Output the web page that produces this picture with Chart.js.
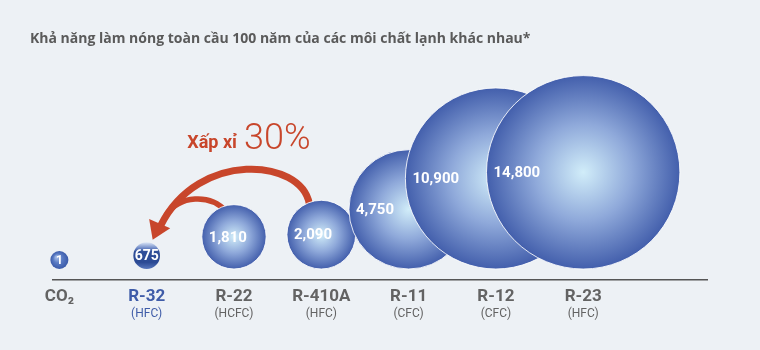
<!DOCTYPE html>
<html>
<head>
<meta charset="utf-8">
<script src="https://cdn.jsdelivr.net/npm/chart.js@4"></script>
<style>
  html, body { margin: 0; padding: 0; background: #edf1f5; }
  #wrap { width: 760px; height: 350px; position: relative; }
</style>
</head>
<body>
<div id="wrap"><canvas id="c" width="760" height="350"></canvas></div>
<script>
// ---------------- data ----------------
const categories = ['CO₂', 'R-32', 'R-22', 'R-410A', 'R-11', 'R-12', 'R-23'];
const refrigerantTypes = ['', '(HFC)', '(HCFC)', '(HFC)', '(CFC)', '(CFC)', '(HFC)'];
const gwpValues = [1, 675, 1810, 2090, 4750, 10900, 14800];
const titleText = 'Khả năng làm nóng toàn cầu 100 năm của các môi chất lạnh khác nhau*';
const noteLabel = 'Xấp xỉ';
const noteValue = '30%';
const highlightIndex = 1;   // R-32
const noteFrom = [3, 2];    // arrows from R-410A and R-22
const noteTo = 1;           // towards R-32

// ---------------- size scale (value -> bubble radius) ----------------
const SIZE_STOPS = [[0, 9], [700, 13.5], [1500, 30], [2000, 33.5], [5000, 62], [11000, 91], [15000, 97]];
function sizeFor(v) {
  for (let i = 1; i < SIZE_STOPS.length; i++) {
    const [d0, r0] = SIZE_STOPS[i - 1], [d1, r1] = SIZE_STOPS[i];
    if (v <= d1) return r0 + (v - d0) / (d1 - d0) * (r1 - r0);
  }
  return SIZE_STOPS[SIZE_STOPS.length - 1][1];
}

const LIFT = 11;          // gap between bubble bottoms and axis line
const X_MIN = -0.073, X_MAX = 7.418;
const FONT = 'Roboto, "Liberation Sans", Arial, sans-serif';
const TITLE_FONT = '"Open Sans", Roboto, sans-serif';
const RED = '#c8462b';

function bubbleFill(ctx) {
  const chart = ctx.chart;
  const xs = chart.scales.x, ys = chart.scales.y;
  if (!xs || !ys || !chart.chartArea || ctx.dataIndex === undefined) return '#5a76bd';
  const i = ctx.dataIndex;
  const r = sizeFor(gwpValues[i]);
  const cx = xs.getPixelForValue(i);
  const cy = ys.getPixelForValue(chart.data.datasets[0].data[i].y);
  const g = chart.ctx;
  if (i === highlightIndex) {
    const lg = g.createLinearGradient(0, cy - r, 0, cy + r);
    lg.addColorStop(0, '#dbe6f6');
    lg.addColorStop(0.22, '#6d88c6');
    lg.addColorStop(0.35, '#2f4e98');
    lg.addColorStop(0.75, '#2b4a94');
    lg.addColorStop(1, '#5877bd');
    return lg;
  }
  if (r < 12) {
    const rg = g.createRadialGradient(cx - r * 0.35, cy - r * 0.35, 0, cx, cy, r);
    rg.addColorStop(0, '#b0c6ec');
    rg.addColorStop(0.5, '#5b7cc4');
    rg.addColorStop(1, '#3a5aa9');
    return rg;
  }
  const rg = g.createRadialGradient(cx, cy, 0, cx, cy, r);
  rg.addColorStop(0, '#d1edf9');
  rg.addColorStop(0.5, '#8fa9da');
  rg.addColorStop(1, '#435fac');
  return rg;
}

// ---------------- plugins ----------------
const bubbleLabels = {
  id: 'bubbleLabels',
  afterDatasetsDraw(chart) {
    const meta = chart.getDatasetMeta(0);
    const g = chart.ctx;
    g.save();
    g.fillStyle = '#ffffff';
    g.textBaseline = 'middle';
    meta.data.forEach((el, i) => {
      const r = el.options.radius;
      const txt = gwpValues[i].toLocaleString('en-US');
      if (r > 20) {
        g.font = 'bold 15px ' + FONT;
        g.textAlign = 'left';
        g.fillText(txt, el.x - r + 7, el.y + 1);
      } else {
        g.font = (r < 12 ? 'bold 12px ' : 'bold 14px ') + FONT;
        g.textAlign = 'center';
        g.fillText(txt, el.x, el.y + 1);
      }
    });
    g.restore();
  }
};

const noteArrow = {
  id: 'noteArrow',
  beforeDatasetsDraw(chart) {
    const meta = chart.getDatasetMeta(0);
    const A = meta.data[noteFrom[0]], B = meta.data[noteFrom[1]], C = meta.data[noteTo];
    if (!A || !B || !C) return;
    const rA = A.options.radius;
    const g = chart.ctx;
    g.save();
    g.strokeStyle = RED;
    g.fillStyle = RED;
    g.lineCap = 'butt';
    const tip = { x: C.x + 6, y: C.y - 16 };
    const base = { x: tip.x + 7, y: tip.y - 16 };
    g.lineWidth = 7;
    g.beginPath();
    g.moveTo(A.x - 0.35 * rA, A.y - 0.9 * rA);
    g.bezierCurveTo(A.x - 20, A.y - 76, C.x + 52, C.y - 106, base.x + 1, base.y + 2);
    g.stroke();
    g.lineWidth = 5.5;
    g.beginPath();
    g.moveTo(B.x - 8, B.y - 0.8 * B.options.radius);
    g.bezierCurveTo(B.x - 24, B.y - 43, C.x + 33, C.y - 61, C.x + 19, C.y - 40);
    g.stroke();
    const dx = tip.x - base.x, dy = tip.y - base.y, len = Math.hypot(dx, dy);
    const px = -dy / len, py = dx / len;
    g.beginPath();
    g.moveTo(tip.x, tip.y);
    g.lineTo(base.x + px * 11.5, base.y + py * 11.5);
    g.lineTo(base.x - px * 11.5, base.y - py * 11.5);
    g.closePath();
    g.fill();
    const axisY = chart.chartArea.bottom;
    g.textBaseline = 'alphabetic';
    g.textAlign = 'right';
    g.font = 'bold 18px ' + FONT;
    g.fillText(noteLabel, B.x + 3, axisY - 132);
    g.textAlign = 'left';
    g.font = '300 36px ' + FONT;
    g.fillText(noteValue, B.x + 10, axisY - 131);
    g.restore();
  }
};

// ---------------- chart ----------------
const ticksFor = s => { s.ticks = categories.map((_, i) => ({ value: i })); };

const chart = new Chart(document.getElementById('c'), {
  type: 'bubble',
  data: {
    datasets: [{
      data: gwpValues.map((v, i) => ({ x: i, y: 0 })),
      radius: ctx => sizeFor(gwpValues[ctx.dataIndex]),
      hoverRadius: 0,
      backgroundColor: bubbleFill,
      borderColor: 'rgba(255,255,255,0.85)',
      borderWidth: ctx => (sizeFor(gwpValues[ctx.dataIndex]) > 20 ? 1 : 0),
      clip: false
    }]
  },
  options: {
    responsive: false,
    animation: false,
    events: [],
    layout: { padding: { left: 30, right: 53, top: 0, bottom: 28 } },
    plugins: {
      legend: { display: false },
      tooltip: { enabled: false },
      title: {
        display: true,
        text: titleText,
        align: 'start',
        color: '#5a5a5a',
        font: { family: TITLE_FONT, size: 14, weight: 'bold', lineHeight: 1.2 },
        padding: { top: 31, bottom: 10 }
      }
    },
    scales: {
      x: {
        type: 'linear', position: 'bottom', weight: 1,
        min: X_MIN, max: X_MAX,
        afterBuildTicks: ticksFor,
        afterFit: s => { s.height = 26; },
        ticks: {
          autoSkip: false, maxRotation: 0, padding: 8.5,
          callback: v => categories[v],
          color: c => (c.index === highlightIndex ? '#3f5ca8' : '#636363'),
          font: { family: FONT, size: 17, weight: 'bold', lineHeight: 1 }
        },
        grid: { display: false, drawTicks: false },
        border: { display: true, color: '#555555', width: 1.5 }
      },
      x2: {
        type: 'linear', position: 'bottom', weight: 2,
        min: X_MIN, max: X_MAX,
        afterBuildTicks: ticksFor,
        afterFit: s => { s.height = 16; },
        ticks: {
          autoSkip: false, maxRotation: 0, padding: 0.8,
          callback: v => refrigerantTypes[v],
          color: c => (c.index === highlightIndex ? '#3f5ca8' : '#636363'),
          font: { family: FONT, size: 12, weight: 'normal', lineHeight: 1.2 }
        },
        grid: { display: false, drawTicks: false },
        border: { display: false }
      },
      y: {
        min: 0, max: 100,
        ticks: { display: false },
        grid: { display: false, drawTicks: false },
        border: { display: false },
        afterFit: s => { s.width = 23; }
      }
    }
  },
  plugins: [noteArrow, bubbleLabels]
});

// bubbles may overflow the plot area freely; no extra layout padding for them
chart.getDatasetMeta(0).controller.getMaxOverflow = () => false;
chart.update('none');

// place each bubble so that it rests on the baseline (through the y scale)
const ys = chart.scales.y;
const basePx = ys.getPixelForValue(0);
chart.data.datasets[0].data.forEach((d, i) => {
  d.y = ys.getValueForPixel(basePx - LIFT - sizeFor(gwpValues[i]));
});
chart.update('none');
</script>
</body>
</html>
